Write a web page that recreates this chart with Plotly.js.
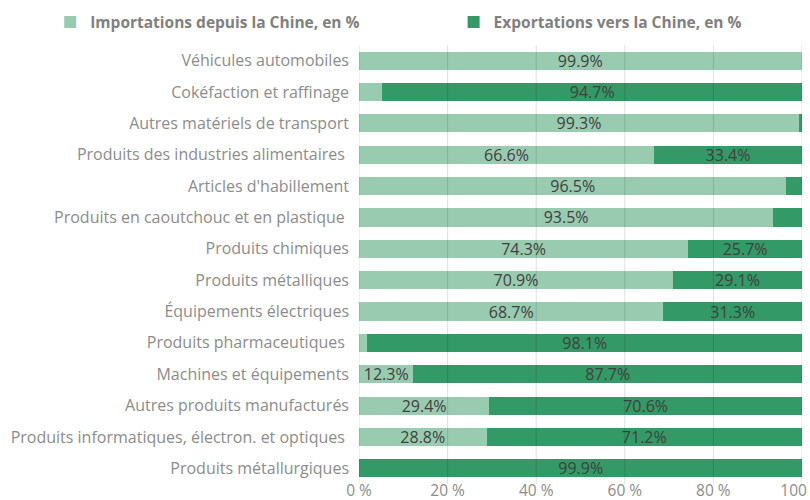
<!DOCTYPE html>
<html>
<head>
<meta charset="utf-8">
<script src="https://cdn.plot.ly/plotly-3.0.1.min.js"></script>
<style>html,body{margin:0;padding:0;background:#fff;}#chart{width:810px;height:500px;}</style>
</head>
<body>
<div id="chart"></div>
<script>
const categories = [
  "Véhicules automobiles",
  "Cokéfaction et raffinage",
  "Autres matériels de transport",
  "Produits des industries alimentaires\u00a0",
  "Articles d'habillement",
  "Produits en caoutchouc et en plastique\u00a0",
  "Produits chimiques",
  "Produits métalliques",
  "Équipements électriques",
  "Produits pharmaceutiques\u00a0",
  "Machines et équipements",
  "Autres produits manufacturés",
  "Produits informatiques, électron. et optiques\u00a0",
  "Produits métallurgiques"
];
const importations = [99.9, 5.3, 99.3, 66.6, 96.5, 93.5, 74.3, 70.9, 68.7, 1.9, 12.3, 29.4, 28.8, 0.1];
const exportations = [0.1, 94.7, 0.7, 33.4, 3.5, 6.5, 25.7, 29.1, 31.3, 98.1, 87.7, 70.6, 71.2, 99.9];
const importLabelShown = [true, false, true, true, true, true, true, true, true, false, true, true, true, false];
const exportLabelShown = [false, true, false, true, false, false, true, true, true, true, true, true, true, true];
const seriesNames = ["Importations depuis la Chine, en %", "Exportations vers la Chine, en %"];
const tickVals = [0, 20, 40, 60, 80, 100];
const tickText = ["0 %", "20 %", "40 %", "60 %", "80 %", "100 %"];

const FONT = "'Open Sans', Lato, sans-serif";
const fmt = v => v.toFixed(1) + "%";

const traces = [
  {
    type: "bar", orientation: "h", name: seriesNames[0], legend: "legend",
    y: categories, x: importations,
    text: importations.map((v,i)=> importLabelShown[i] ? fmt(v) : ""),
    textposition: "inside", insidetextanchor: "middle", textangle: 0,
    constraintext: "none", cliponaxis: false,
    textfont: {family: FONT, size: 16, color: "#404040"},
    marker: {color: "#99cbb1"},
    hoverinfo: "skip"
  },
  {
    type: "bar", orientation: "h", name: seriesNames[1], legend: "legend2",
    y: categories, x: exportations,
    text: exportations.map((v,i)=> exportLabelShown[i] ? fmt(v) : ""),
    textposition: "inside", insidetextanchor: "middle", textangle: 0,
    constraintext: "none", cliponaxis: false,
    textfont: {family: FONT, size: 16, color: "#404040"},
    marker: {color: "#339966"},
    hoverinfo: "skip"
  }
];

const legendBase = {
  orientation: "h", xref: "container", yref: "container",
  xanchor: "left", y: 0.955, yanchor: "middle",
  font: {family: FONT, size: 15.5, color: "#808080", weight: "bold"},
  itemclick: false, itemdoubleclick: false, itemwidth: 30,
  bgcolor: "rgba(0,0,0,0)"
};

const gridShapes = tickVals.map(v => ({
  type: "line", xref: "x", yref: "paper", x0: v, x1: v, y0: 0, y1: 1,
  line: {color: "rgba(0,0,0,0.13)", width: 1}, layer: "above"
}));

const layout = {
  width: 810, height: 500,
  margin: {l: 359, r: 8, t: 45, b: 16},
  barmode: "stack",
  bargap: 0.42,
  paper_bgcolor: "#ffffff", plot_bgcolor: "#ffffff",
  font: {family: FONT, color: "#808080", size: 16},
  showlegend: true,
  legend: Object.assign({}, legendBase, {x: 0.062}),
  legend2: Object.assign({}, legendBase, {x: 0.56}),
  shapes: gridShapes,
  xaxis: {
    range: [0, 100], tickmode: "array", tickvals: tickVals, ticktext: tickText,
    showgrid: false,
    zeroline: false, showline: false, ticks: "",
    ticklabeloverflow: "allow", ticklabelstandoff: -5,
    tickfont: {family: FONT, size: 15.5, color: "#8c8c8c"},
    fixedrange: true, automargin: false
  },
  yaxis: {
    type: "category", autorange: "reversed",
    showgrid: false, zeroline: false, ticks: "", showline: false,
    ticklabelstandoff: 9, automargin: false,
    tickfont: {family: FONT, size: 16, color: "#8c8c8c"},
    fixedrange: true
  }
};

Plotly.newPlot("chart", traces, layout, {displayModeBar: false, staticPlot: true});
</script>
</body>
</html>
